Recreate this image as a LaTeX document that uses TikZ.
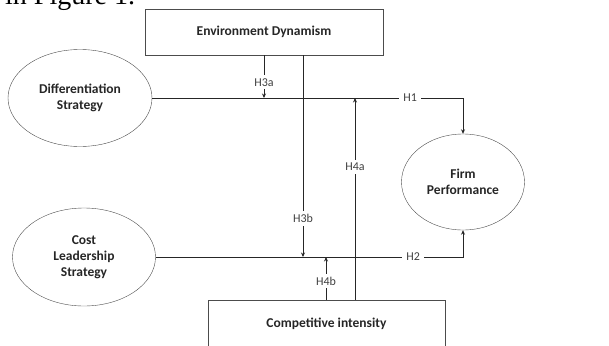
\documentclass[tikz,border=0pt]{standalone}
\usepackage{fontspec}
\setmainfont{Carlito}
\newfontfamily\capfont{Liberation Serif}
\usetikzlibrary{shapes.geometric,arrows.meta}

\tikzset{
  construct/.style={draw=black!70, ellipse, inner sep=0pt, align=center,
    font=\bfseries\fontsize{13.5}{16}\selectfont, text=black!85},
  moderator/.style={draw=black!70, rectangle, inner sep=0pt,
    font=\bfseries\fontsize{13.5}{16}\selectfont, text=black!85},
  hyp/.style={fill=white, inner xsep=4pt, inner ysep=3pt, font=\fontsize{12}{14}\selectfont, text=black!75},
  link/.style={black!85, line width=0.7pt, -{Stealth[length=4.5pt,width=4pt]}}
}

\begin{document}
\begin{tikzpicture}[x=1pt, y=-1pt]
		%%%%% START %%%%%
		\useasboundingbox (0,0) rectangle (609,345);
		
		\node[anchor=base west, inner sep=0pt, font=\capfont\fontsize{28}{28}\selectfont] (caption) at (5,5) {in Figure 1.};
		
		\node[moderator, minimum width=238pt, minimum height=46pt] (env) at (264,32) {Environment Dynamism};
		\node[moderator, minimum width=237pt, minimum height=47pt] (comp) at (326.5,323.5) {Competitive intensity};
		
		\node[construct, minimum width=144pt, minimum height=97pt] (diff) at (80,98) {Differentiation\\Strategy};
		\node[construct, minimum width=143pt, minimum height=98pt] (cost) at (84,257) {Cost\\Leadership\\Strategy};
		\node[construct, minimum width=123pt, minimum height=96pt] (firm) at (463,182) {Firm\\Performance};
		
		\coordinate (h3b) at (303,257);
		\coordinate (h4a) at (355,98);
		\coordinate (h4b) at (326,257);
		
		% direct effects
		\draw[link] (diff.east) -| node[hyp, pos=0.415] {H1} (firm.north);
		\draw[link] (cost.east) -| node[hyp, pos=0.419] {H2} (firm.south);
		
		% moderation
		\draw[link] (env.south) -- node[hyp, pos=0.63] {H3a} (env.south |- diff.east);
		\draw[link] (env.south -| h3b) -- node[hyp, pos=0.81] {H3b} (h3b);
		\draw[link] (comp.north -| h4a) -- node[hyp, pos=0.66] {H4a} (h4a);
		\draw[link] (comp.north -| h4b) -- node[hyp, pos=0.44] {H4b} (h4b);
		
		%%%%% END %%%%%
	\end{tikzpicture}
\end{document}
